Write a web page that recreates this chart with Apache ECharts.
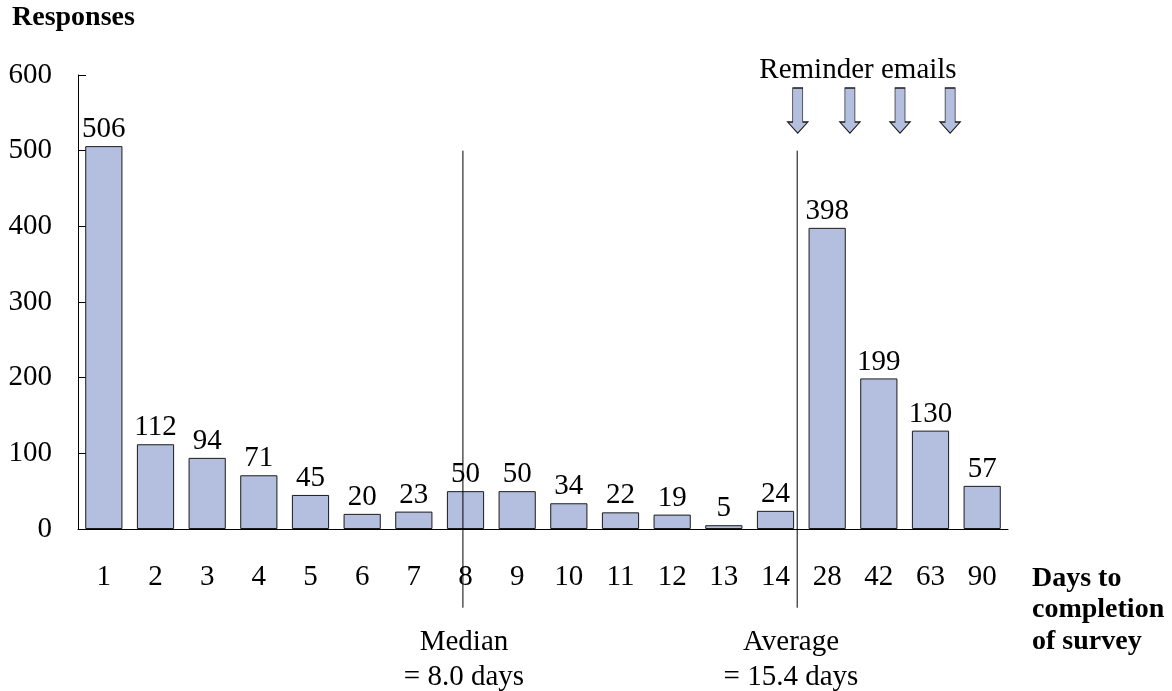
<!DOCTYPE html>
<html>
<head>
<meta charset="utf-8">
<script src="https://cdn.jsdelivr.net/npm/echarts@6/dist/echarts.min.js"></script>
<style>
  html, body { margin: 0; padding: 0; background: #fff; }
  #chart { width: 1172px; height: 691px; }
</style>
</head>
<body>
<div id="chart"></div>
<script>
// Days to completion of survey and the number of responses for each
const days = ['1', '2', '3', '4', '5', '6', '7', '8', '9', '10', '11', '12', '13', '14', '28', '42', '63', '90'];
const responses = [506, 112, 94, 71, 45, 20, 23, 50, 50, 34, 22, 19, 5, 24, 398, 199, 130, 57];
const yTicks = [0, 100, 200, 300, 400, 500, 600];

// Reference lines, placed on a continuous band scale (0..18 across the categories)
const medianPos = 7.45;
const averagePos = 13.92;
const refLineTop = 500;
const refLineBottom = -104;

// Reminder email arrows (band-scale position, response-scale height)
const reminderPos = [13.93, 14.94, 15.91, 16.88];
const reminderY = 553;

const serif = '"Liberation Serif", "Times New Roman", serif';
const barFill = '#b4bfdf';
const fs = 29;

const chart = echarts.init(document.getElementById('chart'));

chart.setOption({
  animation: false,
  backgroundColor: '#ffffff',
  textStyle: { fontFamily: serif, color: '#000' },
  grid: { left: 78, right: 164, top: 75, bottom: 162, containLabel: false },
  xAxis: [
    {
      type: 'category',
      data: days,
      axisLine: { lineStyle: { color: '#000', width: 1 } },
      axisTick: { show: false },
      axisLabel: { fontFamily: serif, fontSize: fs, color: '#000', margin: 34 },
      splitLine: { show: false }
    },
    {
      type: 'value',
      min: 0,
      max: 18,
      show: false
    }
  ],
  yAxis: {
    type: 'value',
    min: 0,
    max: 600,
    interval: 100,
    axisLine: { show: true, lineStyle: { color: '#000', width: 1 } },
    axisTick: { show: true, inside: true, length: 8, lineStyle: { color: '#000' } },
    axisLabel: {
      fontFamily: serif, fontSize: fs, color: '#000', margin: 26,
      formatter: v => (yTicks.indexOf(v) >= 0 ? String(v) : '')
    },
    splitLine: { show: false }
  },
  series: [
    {
      type: 'bar',
      data: responses,
      barCategoryGap: '28%',
      itemStyle: { color: barFill, borderColor: '#1a1a1a', borderWidth: 1 },
      label: {
        show: true, position: 'top', distance: 2,
        fontFamily: serif, fontSize: fs, color: '#000'
      }
    },
    {
      type: 'line',
      xAxisIndex: 1,
      data: [[medianPos, refLineTop], [medianPos, refLineBottom]],
      symbol: 'none',
      clip: false,
      silent: true,
      lineStyle: { color: '#000', width: 1 }
    },
    {
      type: 'line',
      xAxisIndex: 1,
      data: [[averagePos, refLineTop], [averagePos, refLineBottom]],
      symbol: 'none',
      clip: false,
      silent: true,
      lineStyle: { color: '#000', width: 1 }
    },
    {
      type: 'scatter',
      xAxisIndex: 1,
      data: reminderPos.map(p => [p, reminderY]),
      symbol: 'path://M5,0 L15,0 L15,34 L20,34 L10,45 L0,34 L5,34 Z',
      symbolSize: [20, 45],
      clip: false,
      silent: true,
      itemStyle: { color: barFill, borderColor: '#1a1a1a', borderWidth: 1, opacity: 1 }
    }
  ],
  graphic: [
    {
      type: 'text', left: 12, top: 4,
      style: { text: 'Responses', font: 'bold 28px ' + serif, fill: '#000' }
    },
    {
      type: 'text', left: 1032, top: 563,
      style: { text: 'Days to\ncompletion\nof survey', font: 'bold 28px ' + serif, fill: '#000', lineHeight: 31.5 }
    },
    {
      type: 'text', x: 858, y: 70,
      style: { text: 'Reminder emails', font: fs + 'px ' + serif, fill: '#000', align: 'center', verticalAlign: 'middle' }
    },
    {
      type: 'text', x: 464, y: 660,
      style: { text: 'Median\n= 8.0 days', font: fs + 'px ' + serif, fill: '#000', align: 'center', verticalAlign: 'middle', lineHeight: 35 }
    },
    {
      type: 'text', x: 791, y: 660,
      style: { text: 'Average\n= 15.4 days', font: fs + 'px ' + serif, fill: '#000', align: 'center', verticalAlign: 'middle', lineHeight: 35 }
    }
  ]
});
</script>
</body>
</html>
